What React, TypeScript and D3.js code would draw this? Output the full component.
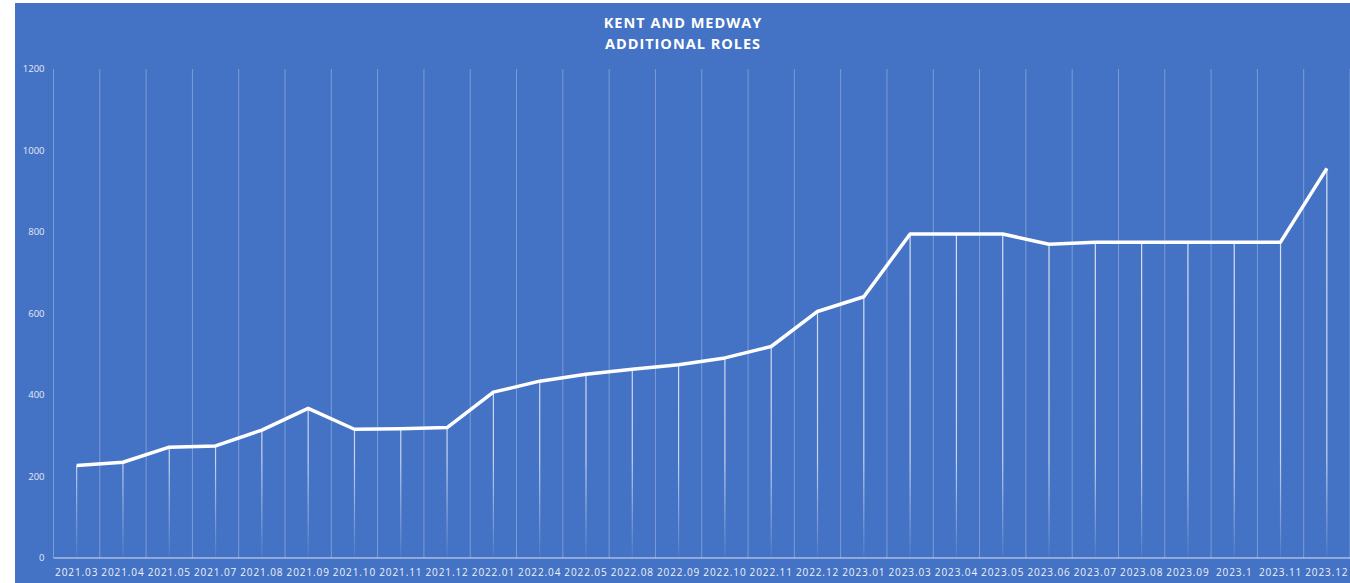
import React from "react";
import * as d3 from "d3";

const WIDTH = 1350;
const HEIGHT = 583;

const months = [
  "2021.03", "2021.04", "2021.05", "2021.07", "2021.08", "2021.09", "2021.10",
  "2021.11", "2021.12", "2022.01", "2022.04", "2022.05", "2022.08", "2022.09",
  "2022.10", "2022.11", "2022.12", "2023.01", "2023.03", "2023.04", "2023.05",
  "2023.06", "2023.07", "2023.08", "2023.09", "2023.1", "2023.11", "2023.12",
];
const roles = [
  227, 235, 272, 275, 314, 367, 316, 317, 320, 407, 434, 451, 463, 474, 491,
  519, 605, 641, 795, 795, 795, 770, 775, 775, 775, 775, 775, 956,
];
const yTicks = [0, 200, 400, 600, 800, 1000, 1200];

const title = ["KENT AND MEDWAY", "ADDITIONAL ROLES"];

export default function App() {
  const margin = { top: 69, right: 0, bottom: 25, left: 53.5 };
  const innerW = WIDTH - margin.left - margin.right;
  const innerH = HEIGHT - margin.top - margin.bottom;

  const x = d3.scaleBand().domain(months).range([0, innerW]);
  const y = d3.scaleLinear().domain([0, 1200]).range([innerH, 0]);
  const cx = (m: string) => (x(m) ?? 0) + x.bandwidth() / 2;

  const line = d3
    .line<number>()
    .x((_, i) => cx(months[i]))
    .y((d) => y(d));

  // category boundaries for the vertical gridlines
  const bounds = months.map((m) => x(m) ?? 0).concat([innerW]);

  return (
    <svg
      width={WIDTH}
      height={HEIGHT}
      style={{ position: "absolute", left: 0, top: 0 }}
    >
      <defs>
        <linearGradient
          id="drop"
          gradientUnits="userSpaceOnUse"
          x1="0"
          y1={0}
          x2="0"
          y2={innerH}
        >
          <stop offset="0" stopColor="#fff" stopOpacity={0.85} />
          <stop offset="0.8" stopColor="#fff" stopOpacity={0.7} />
          <stop offset="1" stopColor="#fff" stopOpacity={0.05} />
        </linearGradient>
      </defs>
      <rect x={15} y={3} width={WIDTH - 15} height={HEIGHT - 3} fill="#4472C4" />

      {title.map((t, i) => (
        <text
          key={t}
          x={683}
          y={28 + i * 21}
          textAnchor="middle"
          fill="#fff"
          fontFamily="'Open Sans', sans-serif"
          fontWeight={700}
          fontSize={14.5}
          letterSpacing={1}
        >
          {t}
        </text>
      ))}

      <g transform={`translate(${margin.left},${margin.top})`}>
        {bounds.map((b, i) => (
          <line
            key={i}
            x1={b}
            x2={b}
            y1={0}
            y2={innerH}
            stroke="#fff"
            strokeOpacity={0.3}
            strokeWidth={1}
          />
        ))}

        {yTicks.map((t) => (
          <text
            key={t}
            x={-9}
            y={y(t)}
            dy="0.35em"
            textAnchor="end"
            fill="#e4eaf6"
            fontFamily="'Open Sans', sans-serif"
            fontSize={9.5}
          >
            {t}
          </text>
        ))}

        {roles.map((v, i) => (
          <line
            key={months[i]}
            x1={cx(months[i])}
            x2={cx(months[i])}
            y1={y(v)}
            y2={innerH}
            stroke="url(#drop)"
            strokeWidth={1.2}
          />
        ))}

        <line
          x1={0}
          x2={innerW}
          y1={innerH}
          y2={innerH}
          stroke="#fff"
          strokeOpacity={0.8}
          strokeWidth={1.2}
        />

        <path
          d={line(roles) ?? ""}
          fill="none"
          stroke="#fff"
          strokeWidth={3.5}
          strokeLinejoin="round"
        />

        {months.map((m) => (
          <text
            key={m}
            x={cx(m)}
            y={innerH + 18}
            textAnchor="middle"
            fill="#eef2fa"
            fontFamily="'Open Sans', sans-serif"
            fontSize={10}
            letterSpacing={0.9}
          >
            {m}
          </text>
        ))}
      </g>
    </svg>
  );
}
